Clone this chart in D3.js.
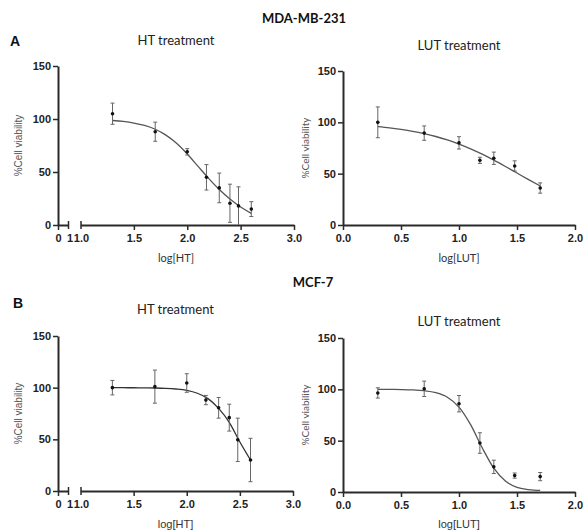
<!DOCTYPE html>
<html>
<head>
<meta charset="utf-8">
<script src="https://cdn.jsdelivr.net/npm/d3@7"></script>
<style>
  body { margin: 0; background: #fff; }
  svg { display: block; }
</style>
</head>
<body>
<div id="viz"></div>
<script>
// doses (log scale)
const htDoses = [1.3, 1.7, 2.0, 2.18, 2.3, 2.4, 2.48, 2.6];
const lutDoses = [0.3, 0.7, 1.0, 1.18, 1.3, 1.48, 1.7];

// MDA-MB-231
const mdaHtMean = [105, 88, 69, 45, 35, 20.5, 18, 15];
const mdaHtErr = [10, 9, 3, 12, 14, 18, 18, 7];
const mdaLutMean = [100, 89.5, 80, 63, 65, 57.5, 36];
const mdaLutErr = [15, 7, 6, 3, 6, 5, 5];

// MCF-7
const mcfHtMean = [100, 101, 104.5, 88, 80.5, 71, 49.5, 30];
const mcfHtErr = [7, 16, 9, 4.5, 10, 13, 21, 21];
const mcfLutMean = [96.5, 100.5, 86, 47.7, 24.5, 16, 15];
const mcfLutErr = [5, 7.5, 8, 10, 6.5, 2.5, 4];

// fitted curves, sampled along x
const htFitX = [1.3, 1.4, 1.5, 1.6, 1.7, 1.8, 1.9, 2.0, 2.1, 2.2, 2.3, 2.4, 2.5, 2.6];
const lutFitX = [0.3, 0.4, 0.5, 0.6, 0.7, 0.8, 0.9, 1.0, 1.1, 1.2, 1.3, 1.4, 1.5, 1.6, 1.7];
const mdaHtFit = [98.6, 97.7, 96.2, 93.9, 90.3, 84.8, 77.1, 67, 55.5, 44, 33.5, 24.5, 17, 11];
const mdaLutFit = [95.8, 94.6, 93.1, 91.3, 89, 86.2, 82.8, 78.8, 74.2, 69, 63.2, 57, 50.6, 44.2, 38];
const mcfHtFit = [100, 99.95, 99.9, 99.8, 99.7, 99.4, 98.7, 97.4, 94.6, 89.4, 80, 66.5, 47.4, 30];
const mcfLutFit = [100, 99.9, 99.8, 99.5, 98.7, 96.8, 92.3, 82.7, 65.6, 43.1, 23.2, 10.7, 4.6, 2.4, 1.5];

const yTicks = [0, 50, 100, 150];
const htTicks = [1.0, 1.5, 2.0, 2.5, 3.0];
const lutTicks = [0.0, 0.5, 1.0, 1.5, 2.0];

const svg = d3.select('#viz')
    .append('svg')
    .attr('width', 584)
    .attr('height', 531);

const axisColor = '#2a2a2a';
const calibri = 'Lato, "Open Sans", sans-serif';
const arial = '"Liberation Sans", Arial, sans-serif';

const panels = [
    { title: 'HT treatment', kind: 'ht', x0: 58, xEnd: 294, y0: 225, y150: 66, titleY: 45, tickY: 243,
      label: 'log[HT]', labelY: 262, labelFont: calibri, ylabX: 18, ylabFont: arial,
      mean: mdaHtMean, err: mdaHtErr, fit: mdaHtFit, fitColor: '#555' },
    { title: 'LUT treatment', kind: 'lut', x0: 343, xEnd: 575, y0: 225, y150: 71, titleY: 50, tickY: 243,
      label: 'log[LUT]', labelY: 262, labelFont: calibri, ylabX: 305, ylabFont: calibri,
      mean: mdaLutMean, err: mdaLutErr, fit: mdaLutFit, fitColor: '#555' },
    { title: 'HT treatment', kind: 'ht', x0: 58, xEnd: 293, y0: 491, y150: 336, titleY: 314, tickY: 508,
      label: 'log[HT]', labelY: 528, labelFont: arial, ylabX: 18, ylabFont: arial,
      mean: mcfHtMean, err: mcfHtErr, fit: mcfHtFit, fitColor: '#333' },
    { title: 'LUT treatment', kind: 'lut', x0: 343, xEnd: 575, y0: 492, y150: 338, titleY: 326, tickY: 508,
      label: 'log[LUT]', labelY: 528, labelFont: arial, ylabX: 305, ylabFont: calibri,
      mean: mcfLutMean, err: mcfLutErr, fit: mcfLutFit, fitColor: '#555' },
];

function styleAxis(g) {
    g.selectAll('path').attr('stroke', axisColor).attr('stroke-width', 2);
    g.selectAll('line').attr('stroke', axisColor).attr('stroke-width', 1.5);
    g.selectAll('text')
        .attr('font-family', arial)
        .attr('font-weight', 'bold')
        .attr('font-size', 11)
        .attr('fill', '#222');
}

panels.forEach((p) => {
    const g = svg.append('g');
    const y = d3.scaleLinear().domain([0, 150]).range([p.y0, p.y150]);
    let x;

    // y axis
    const yAxis = g.append('g')
        .attr('transform', `translate(${p.x0},0)`)
        .call(d3.axisLeft(y).tickValues(yTicks).tickSize(5).tickSizeOuter(0).tickPadding(2));
    styleAxis(yAxis);

    if (p.kind === 'ht') {
        // discontinuous x axis: 0..1 then 1..3
        const xs1 = d3.scaleLinear().domain([0, 1]).range([p.x0, p.x0 + 10]);
        x = d3.scaleLinear().domain([1, 3]).range([p.x0 + 22.5, p.xEnd]);
        const a1 = g.append('g')
            .attr('transform', `translate(0,${p.y0})`)
            .call(d3.axisBottom(xs1).tickValues([0, 1]).tickFormat(d3.format('d')).tickSize(5).tickSizeOuter(0).tickPadding(4));
        const a2 = g.append('g')
            .attr('transform', `translate(0,${p.y0})`)
            .call(d3.axisBottom(x).tickValues(htTicks).tickFormat(d3.format('.1f')).tickSize(5).tickSizeOuter(0).tickPadding(4));
        styleAxis(a1);
        styleAxis(a2);
        // break marks span across the axis line
        a1.selectAll('.tick').filter((d) => d === 1).select('line').attr('y1', -4).attr('y2', 4);
        a1.selectAll('.tick').filter((d) => d === 1).select('text').attr('dx', 1.5);
        a2.selectAll('.tick').filter((d) => d === 1).select('line').attr('y1', -4).attr('y2', 4);
        a2.selectAll('.tick').filter((d) => d === 1).select('text').attr('dx', 0.5);
    } else {
        x = d3.scaleLinear().domain([0, 2]).range([p.x0, p.xEnd]);
        const a = g.append('g')
            .attr('transform', `translate(0,${p.y0})`)
            .call(d3.axisBottom(x).tickValues(lutTicks).tickFormat(d3.format('.1f')).tickSize(5).tickSizeOuter(0).tickPadding(4));
        styleAxis(a);
    }

    const doses = p.kind === 'ht' ? htDoses : lutDoses;
    const fitX = p.kind === 'ht' ? htFitX : lutFitX;

    // fitted curve
    const line = d3.line()
        .x((d) => x(d[0]))
        .y((d) => y(d[1]))
        .curve(d3.curveMonotoneX);
    g.append('path')
        .datum(fitX.map((v, i) => [v, p.fit[i]]))
        .attr('d', line)
        .attr('fill', 'none')
        .attr('stroke', p.fitColor)
        .attr('stroke-width', 1.3);

    // error bars
    const pts = doses.map((d, i) => ({ x: d, m: p.mean[i], e: p.err[i] }));
    const eb = g.append('g').attr('stroke', '#666').attr('stroke-width', 1);
    eb.selectAll('line.v').data(pts).join('line')
        .attr('x1', (d) => x(d.x)).attr('x2', (d) => x(d.x))
        .attr('y1', (d) => y(Math.max(0, d.m - d.e))).attr('y2', (d) => y(d.m + d.e));
    eb.selectAll('line.t').data(pts).join('line')
        .attr('x1', (d) => x(d.x) - 2).attr('x2', (d) => x(d.x) + 2)
        .attr('y1', (d) => y(d.m + d.e)).attr('y2', (d) => y(d.m + d.e));
    eb.selectAll('line.b').data(pts.filter((d) => d.m - d.e > 0)).join('line')
        .attr('x1', (d) => x(d.x) - 2).attr('x2', (d) => x(d.x) + 2)
        .attr('y1', (d) => y(d.m - d.e)).attr('y2', (d) => y(d.m - d.e));

    // points
    g.selectAll('circle.pt').data(pts).join('circle')
        .attr('cx', (d) => x(d.x))
        .attr('cy', (d) => y(d.m))
        .attr('r', 1.8)
        .attr('fill', '#111');

    // panel title
    g.append('text')
        .attr('x', (p.x0 + p.xEnd) / 2)
        .attr('y', p.titleY)
        .attr('text-anchor', 'middle')
        .attr('font-family', calibri)
        .attr('font-size', 13)
        .attr('fill', '#222')
        .text(p.title);

    // x label
    g.append('text')
        .attr('x', (p.x0 + p.xEnd) / 2)
        .attr('y', p.labelY)
        .attr('text-anchor', 'middle')
        .attr('font-family', p.labelFont)
        .attr('font-size', 11)
        .attr('fill', '#333')
        .text(p.label);

    // y label
    g.append('text')
        .attr('transform', `translate(${p.ylabX},${(p.y0 + p.y150) / 2}) rotate(-90)`)
        .attr('text-anchor', 'middle')
        .attr('dy', '0.35em')
        .attr('font-family', p.ylabFont)
        .attr('font-size', 10)
        .attr('fill', '#555')
        .text('%Cell viability');
});

// cell line headers and panel letters
svg.append('text').attr('x', 304).attr('y', 23).attr('text-anchor', 'middle')
    .attr('font-family', calibri).attr('font-weight', 'bold').attr('font-size', 13)
    .attr('fill', '#111').text('MDA-MB-231');
svg.append('text').attr('x', 313).attr('y', 287).attr('text-anchor', 'middle')
    .attr('font-family', calibri).attr('font-weight', 'bold').attr('font-size', 13)
    .attr('fill', '#111').text('MCF-7');
svg.append('text').attr('x', 10).attr('y', 46)
    .attr('font-family', arial).attr('font-weight', 'bold').attr('font-size', 14)
    .attr('fill', '#111').text('A');
svg.append('text').attr('x', 13).attr('y', 308)
    .attr('font-family', arial).attr('font-weight', 'bold').attr('font-size', 14)
    .attr('fill', '#111').text('B');
</script>
</body>
</html>
